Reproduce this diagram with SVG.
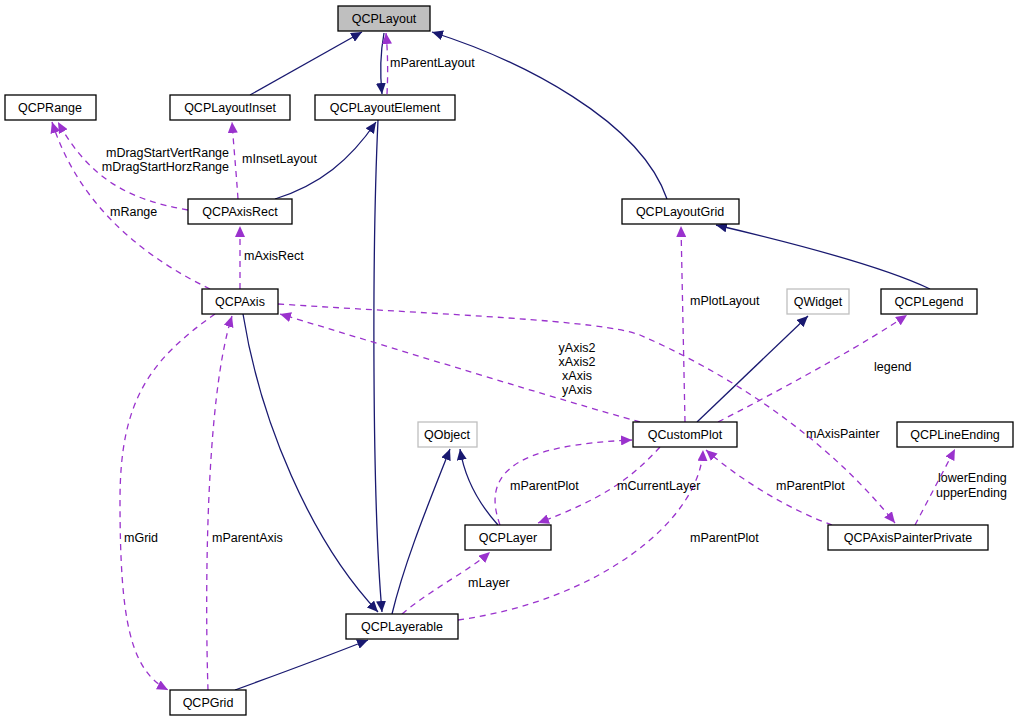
<svg xmlns="http://www.w3.org/2000/svg" width="1019" height="723" viewBox="0 0 1019 723">
<style>
.n rect{fill:#fff;stroke:#000;stroke-width:1.3}
.g rect{fill:#fff;stroke:#bfbfbf;stroke-width:1.3}
text{font-family:"Liberation Sans",Arial,sans-serif;font-size:12.5px;fill:#000}
.n text,.g text{text-anchor:middle}
.inh{fill:none;stroke:#191970;stroke-width:1.3;marker-end:url(#an)}
.use{fill:none;stroke:#9a32cd;stroke-width:1.3;stroke-dasharray:6,5;marker-end:url(#ap)}
</style>
<defs>
<marker id="an" markerWidth="12" markerHeight="10" refX="11" refY="5" orient="auto" markerUnits="userSpaceOnUse"><path d="M0,0 L11,5 L0,10 z" fill="#191970"/></marker>
<marker id="ap" markerWidth="12" markerHeight="10" refX="11" refY="5" orient="auto" markerUnits="userSpaceOnUse"><path d="M0,0 L11,5 L0,10 z" fill="#9a32cd"/></marker>
</defs>
<rect width="1019" height="723" fill="#fff"/>
<g id="connectors">
<path class="inh" d="M250,95 L362,32"/>
<path class="inh" d="M384,33 C380,55 380,75 382,94"/>
<path class="use" d="M387,94 C388,75 388,55 386,33"/>
<path class="inh" d="M667,199 C640,120 520,60 432,32"/>
<path class="inh" d="M275,199 C320,185 350,160 376,122"/>
<path class="inh" d="M930,289 C880,265 780,240 716,225"/>
<path class="inh" d="M697,422 L808,316"/>
<path class="inh" d="M378,120 C372,250 372,500 382,612"/>
<path class="inh" d="M243,314 C260,420 310,540 378,612"/>
<path class="inh" d="M498,525 C480,505 465,480 460,449"/>
<path class="inh" d="M392,614 C405,560 430,500 450,449"/>
<path class="inh" d="M235,690 C290,670 330,655 368,640"/>
<path class="use" d="M188,210 C130,200 90,180 58,122"/>
<path class="use" d="M210,289 C150,260 80,210 52,122"/>
<path class="use" d="M238,199 C236,170 234,150 232,122"/>
<path class="use" d="M240,289 L240,226"/>
<path class="use" d="M685,422 L681,226"/>
<path class="use" d="M640,422 C560,400 400,350 280,314"/>
<path class="use" d="M718,422 C800,380 870,340 907,315"/>
<path class="use" d="M278,304 C450,315 600,320 640,335 C720,370 820,430 895,523"/>
<path class="use" d="M915,525 L955,449"/>
<path class="use" d="M832,525 C790,510 740,480 706,450"/>
<path class="use" d="M500,525 C480,470 520,445 632,440"/>
<path class="use" d="M660,447 C630,480 600,500 538,523"/>
<path class="use" d="M458,620 C600,600 700,520 703,450"/>
<path class="use" d="M402,614 C430,590 470,570 490,552"/>
<path class="use" d="M215,314 C150,360 120,400 120,500 C120,620 130,670 168,690"/>
<path class="use" d="M208,690 C205,600 205,400 232,316"/>
<text x="390" y="67">mParentLayout</text>
<text x="229" y="157" text-anchor="end">mDragStartVertRange</text>
<text x="229" y="171" text-anchor="end">mDragStartHorzRange</text>
<text x="110" y="216">mRange</text>
<text x="242" y="163">mInsetLayout</text>
<text x="244" y="260">mAxisRect</text>
<text x="690" y="305">mPlotLayout</text>
<text x="577" y="352" text-anchor="middle">yAxis2</text>
<text x="577" y="366" text-anchor="middle">xAxis2</text>
<text x="577" y="380" text-anchor="middle">xAxis</text>
<text x="577" y="394" text-anchor="middle">yAxis</text>
<text x="874" y="371">legend</text>
<text x="806" y="438">mAxisPainter</text>
<text x="938" y="482">lowerEnding</text>
<text x="936" y="497">upperEnding</text>
<text x="776" y="490">mParentPlot</text>
<text x="510" y="490">mParentPlot</text>
<text x="617" y="490">mCurrentLayer</text>
<text x="690" y="542">mParentPlot</text>
<text x="468" y="587">mLayer</text>
<text x="124" y="542">mGrid</text>
<text x="212" y="542">mParentAxis</text>
</g>
<g id="QCPLayout" class="n"><rect x="338" y="6" width="92" height="25" style="fill:#bfbfbf"/><text x="384" y="23">QCPLayout</text></g>
<g id="QCPRange" class="n"><rect x="5" y="95" width="91" height="25"/><text x="50" y="112">QCPRange</text></g>
<g id="QCPLayoutInset" class="n"><rect x="170" y="95" width="120" height="25"/><text x="230" y="112">QCPLayoutInset</text></g>
<g id="QCPLayoutElement" class="n"><rect x="315" y="95" width="140" height="25"/><text x="385" y="112">QCPLayoutElement</text></g>
<g id="QCPAxisRect" class="n"><rect x="188" y="199" width="104" height="25"/><text x="240" y="216">QCPAxisRect</text></g>
<g id="QCPLayoutGrid" class="n"><rect x="622" y="199" width="117" height="25"/><text x="680" y="216">QCPLayoutGrid</text></g>
<g id="QCPAxis" class="n"><rect x="202" y="289" width="76" height="25"/><text x="240" y="306">QCPAxis</text></g>
<g id="QWidget" class="g"><rect x="787" y="289" width="62" height="25"/><text x="818" y="306">QWidget</text></g>
<g id="QCPLegend" class="n"><rect x="881" y="289" width="96" height="25"/><text x="929" y="306">QCPLegend</text></g>
<g id="QObject" class="g"><rect x="418" y="422" width="59" height="25"/><text x="447" y="439">QObject</text></g>
<g id="QCustomPlot" class="n"><rect x="633" y="422" width="104" height="25"/><text x="685" y="439">QCustomPlot</text></g>
<g id="QCPLineEnding" class="n"><rect x="897" y="422" width="116" height="25"/><text x="955" y="439">QCPLineEnding</text></g>
<g id="QCPLayer" class="n"><rect x="465" y="525" width="86" height="25"/><text x="508" y="542">QCPLayer</text></g>
<g id="QCPAxisPainterPrivate" class="n"><rect x="828" y="525" width="160" height="25"/><text x="908" y="542">QCPAxisPainterPrivate</text></g>
<g id="QCPLayerable" class="n"><rect x="346" y="614" width="112" height="25"/><text x="402" y="631">QCPLayerable</text></g>
<g id="QCPGrid" class="n"><rect x="170" y="690" width="76" height="25"/><text x="208" y="707">QCPGrid</text></g>
</svg>
